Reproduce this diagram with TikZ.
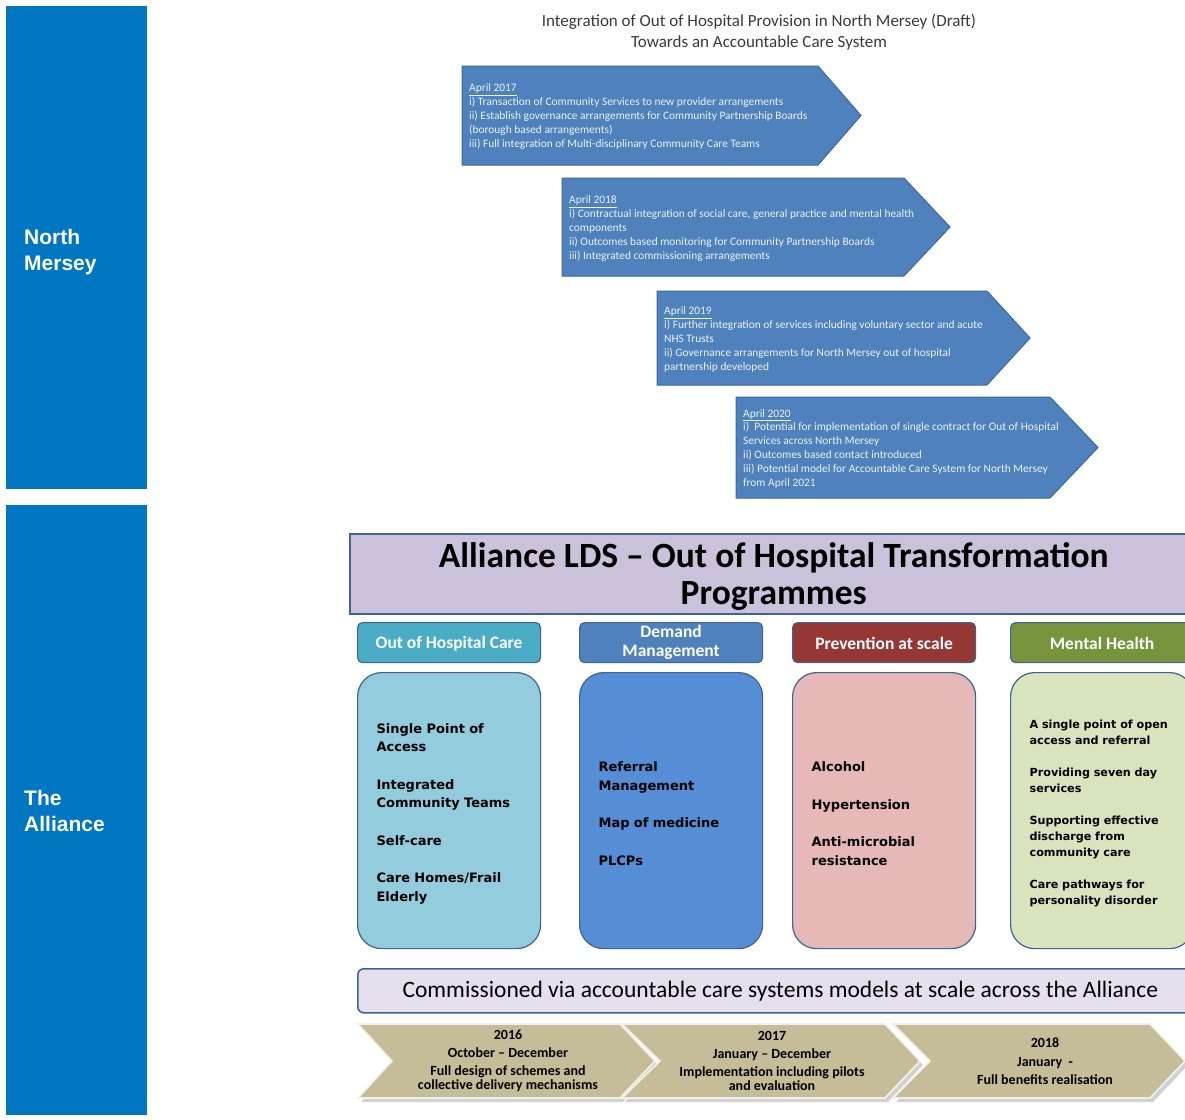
\documentclass[tikz,border=0pt]{standalone}
\usepackage{fontspec}
\setmainfont{Carlito}
\newfontfamily\verdfont{DejaVu Sans}
\newfontfamily\arialfont{Liberation Sans}

\definecolor{sideblue}{HTML}{0077C0}
\definecolor{planblue}{HTML}{4F81BD}
\definecolor{planedge}{HTML}{3C68A0}
\definecolor{edgeblue}{HTML}{3F6395}
\definecolor{lavender}{HTML}{CCC1DA}
\definecolor{palelav}{HTML}{E6E0EC}
\definecolor{careteal}{HTML}{4BACC6}
\definecolor{demandblue}{HTML}{4F81BD}
\definecolor{preventred}{HTML}{953735}
\definecolor{mentalgreen}{HTML}{77933C}
\definecolor{carefill}{HTML}{93CDDD}
\definecolor{demandfill}{HTML}{558ED5}
\definecolor{preventfill}{HTML}{E6B9B8}
\definecolor{mentalfill}{HTML}{D7E4BD}
\definecolor{stagefill}{HTML}{C4BD97}
\definecolor{titlegrey}{HTML}{3A3A3A}

\newcommand{\liftline}{\rule{0pt}{1.25em}}

\begin{document}
\begin{tikzpicture}[x=1pt,y=-1pt,
	sidebar/.style={fill=sideblue,minimum width=141pt,anchor=north west,inner sep=0pt},
	sidelabel/.style={anchor=west,align=left,inner sep=0pt,text=white,font=\arialfont\bfseries\fontsize{21}{26}\selectfont},
	plan/.style={fill=planblue,draw=planedge,line width=1pt},
	plantext/.style={anchor=west,align=left,inner sep=0pt,text=white!90!planblue,font=\fontsize{11.4}{13.8}\selectfont},
	heading/.style={draw=edgeblue,line width=1.6pt,fill=lavender,minimum width=848pt,minimum height=80pt,anchor=north west,align=center,inner sep=0pt,font=\bfseries\fontsize{35.5}{37}\selectfont},
	theme/.style={draw=edgeblue,line width=1.2pt,rounded corners=5pt,minimum width=183pt,minimum height=40pt,anchor=north west,inner sep=0pt,text=white,align=center,font=\bfseries\fontsize{17.5}{19}\selectfont},
	scheme/.style={draw=edgeblue,line width=1.2pt,rounded corners=24pt,minimum width=183pt,minimum height=276pt,anchor=north west,text width=145pt,align=left,inner sep=0pt,font=\verdfont\bfseries\fontsize{13}{18.7}\selectfont},
	commission/.style={draw=edgeblue,line width=1.6pt,rounded corners=6pt,fill=palelav,minimum width=845pt,minimum height=44pt,anchor=north west,inner sep=0pt,font=\fontsize{23.5}{25}\selectfont},
	stage/.style={fill=stagefill,draw=white!80!stagefill,line width=1.6pt},
	stagetext/.style={align=center,inner sep=0pt,font=\bfseries\fontsize{14}{14}\selectfont}]
\useasboundingbox (0,0) rectangle (1185,1119);

\node[sidebar,minimum height=483pt] (north) at (6,6) {};
\node[sidebar,minimum height=610pt] (alliance) at (6,505) {};
\node[sidelabel] (northlabel) at (24,252) {North\\Mersey};
\node[sidelabel] (alliancelabel) at (24,811) {The\\Alliance};

\node[align=center,inner sep=0pt,text=titlegrey,font=\fontsize{17}{21}\selectfont] (title) at (759,32)
	{Integration of Out of Hospital Provision in North Mersey (Draft)\\Towards an Accountable Care System};

\draw[plan] (462,66) -- (818,66) -- (861,115.5) -- (818,165) -- (462,165) -- cycle;
\node[plantext] (plan17) at (469,116.5) {\underline{April 2017}\\
	i) Transaction of Community Services to new provider arrangements\\
	ii) Establish governance arrangements for Community Partnership Boards\\
	(borough based arrangements)\\
	iii) Full integration of Multi-disciplinary Community Care Teams};
\draw[plan] (562,178) -- (904,178) -- (950,227) -- (904,276) -- (562,276) -- cycle;
\node[plantext] (plan18) at (569,228.5) {\underline{April 2018}\\
	i) Contractual integration of social care, general practice and mental health\\
	components\\
	ii) Outcomes based monitoring for Community Partnership Boards\\
	iii) Integrated commissioning arrangements};
\draw[plan] (657,291) -- (987,291) -- (1030,338) -- (987,385) -- (657,385) -- cycle;
\node[plantext] (plan19) at (664,339.5) {\underline{April 2019}\\
	i) Further integration of services including voluntary sector and acute\\
	NHS Trusts\\
	ii) Governance arrangements for North Mersey out of hospital\\
	partnership developed};
\draw[plan] (736,397) -- (1050,397) -- (1098,447.5) -- (1050,498) -- (736,498) -- cycle;
\node[plantext] (plan20) at (743,448.5) {\underline{April 2020}\\
	i)~~Potential for implementation of single contract for Out of Hospital\\
	Services across North Mersey\\
	ii) Outcomes based contact introduced\\
	iii) Potential model for Accountable Care System for North Mersey\\
	from April 2021};

\node[heading] (programmes) at (349,533) {\rule{0pt}{31pt}Alliance LDS -- Out of Hospital Transformation\\Programmes};

\node[theme,fill=careteal] (care) at (357,622) {\rule{0pt}{14pt}Out of Hospital Care};
\node[theme,fill=demandblue] (demand) at (579,622) {Demand\\Management};
\node[theme,fill=preventred] (prevent) at (792,622) {\rule{0pt}{14pt}Prevention at scale};
\node[theme,fill=mentalgreen] (mental) at (1010,622) {\rule{0pt}{14pt}Mental Health};

\node[scheme,fill=carefill] (careitems) at (357,672) {\liftline Single Point of\\Access\\[18.7pt]
	Integrated\\Community Teams\\[18.7pt]Self-care\\[18.7pt]Care Homes/Frail\\Elderly};
\node[scheme,fill=demandfill] (demanditems) at (579,672) {\liftline Referral\\Management\\[18.7pt]
	Map of medicine\\[18.7pt]PLCPs};
\node[scheme,fill=preventfill] (preventitems) at (792,672) {\liftline Alcohol\\[18.7pt]
	Hypertension\\[18.7pt]Anti-microbial\\resistance};
\node[scheme,fill=mentalfill,font=\verdfont\bfseries\fontsize{11.2}{16}\selectfont] (mentalitems) at (1010,672)
	{\liftline A single point of open\\access and referral\\[16pt]Providing seven day\\services\\[16pt]
	Supporting effective\\discharge from\\community care\\[16pt]Care pathways for\\personality disorder};

\node[commission] (commissioned) at (357,968) {Commissioned via accountable care systems models at scale across the Alliance};

\fill[black,opacity=0.18] (361,1028) -- (623,1028) -- (658,1065) -- (623,1102) -- (361,1102) -- (395,1065) -- cycle;
\draw[stage] (358,1024) -- (620,1024) -- (655,1061) -- (620,1098) -- (358,1098) -- (392,1061) -- cycle;
\fill[black,opacity=0.18] (625,1028) -- (888,1028) -- (923,1065) -- (888,1102) -- (625,1102) -- (663,1065) -- cycle;
\draw[stage] (622,1024) -- (885,1024) -- (920,1061) -- (885,1098) -- (622,1098) -- (660,1061) -- cycle;
\fill[black,opacity=0.18] (896,1028) -- (1153,1028) -- (1188,1065) -- (1153,1102) -- (896,1102) -- (933,1065) -- cycle;
\draw[stage] (893,1024) -- (1150,1024) -- (1185,1061) -- (1150,1098) -- (893,1098) -- (930,1061) -- cycle;
\node[stagetext] (stage16) at (508,1061) {2016\\[4pt]October -- December\\[4pt]Full design of schemes and\\collective delivery mechanisms};
\node[stagetext] (stage17) at (772,1061) {2017\\[4pt]January -- December\\[4pt]Implementation including pilots\\and evaluation};
\node[stagetext] (stage18) at (1045,1061) {2018\\[5pt]January~~-\\[4pt]Full benefits realisation};
\end{tikzpicture}
\end{document}
